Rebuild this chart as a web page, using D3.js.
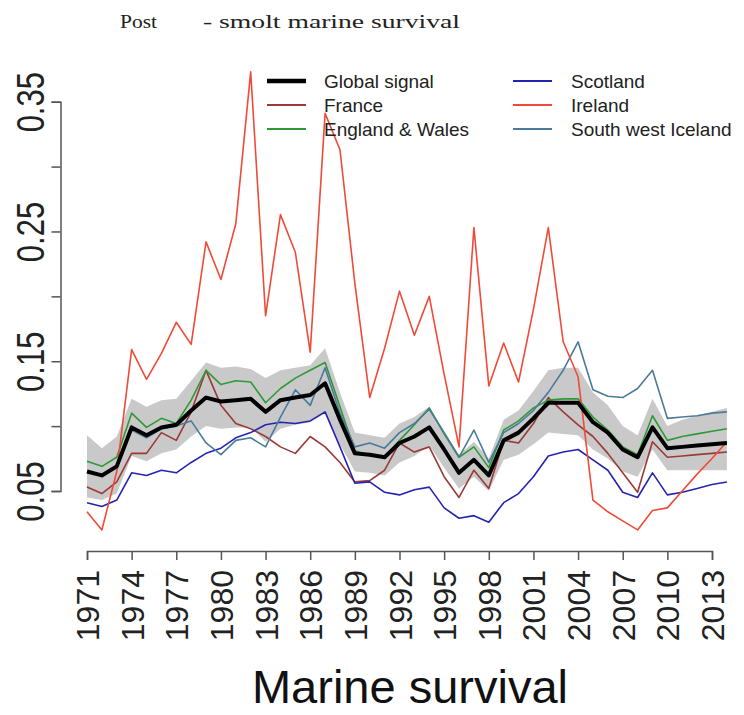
<!DOCTYPE html>
<html>
<head>
<meta charset="utf-8">
<script src="https://cdn.jsdelivr.net/npm/d3@7"></script>
<style>
  html, body { margin: 0; padding: 0; background: #fff; }
  svg { display: block; }
</style>
</head>
<body>
<svg id="chart" width="744" height="715"></svg>
<script>
// ---- data ----
const years = d3.range(1971, 2015);
const tickYears = [1971,1974,1977,1980,1983,1986,1989,1992,1995,1998,2001,2004,2007,2010,2013];
const yTicks = [0.05,0.10,0.15,0.20,0.25,0.30,0.35];
const yLabelled = [0.05,0.15,0.25,0.35];

const globalSignal = [0.065,0.062,0.069,0.099,0.093,0.099,0.101,0.112,0.122,0.119,
  0.120,0.121,0.111,0.120,0.122,0.124,0.133,0.105,0.079,0.078,
  0.076,0.087,0.092,0.099,0.082,0.064,0.074,0.062,0.089,0.095,
  0.106,0.118,0.118,0.118,0.103,0.095,0.082,0.076,0.099,0.083,
  0.084,0.085,0.086,0.087];
const bandUpper = [0.093,0.083,0.092,0.121,0.115,0.120,0.121,0.135,0.149,0.145,
  0.146,0.144,0.137,0.143,0.145,0.147,0.160,0.126,0.095,0.093,
  0.091,0.102,0.107,0.115,0.096,0.078,0.088,0.075,0.105,0.112,
  0.127,0.143,0.145,0.145,0.126,0.116,0.100,0.093,0.121,0.100,
  0.105,0.108,0.111,0.114];
const bandLower = [0.045,0.043,0.048,0.077,0.073,0.079,0.082,0.092,0.100,0.098,
  0.099,0.099,0.088,0.098,0.101,0.103,0.110,0.086,0.065,0.064,
  0.062,0.072,0.077,0.085,0.068,0.052,0.061,0.050,0.074,0.078,
  0.086,0.095,0.094,0.093,0.082,0.075,0.065,0.061,0.082,0.066,
  0.066,0.066,0.066,0.066];
const france = [0.053,0.048,0.057,0.079,0.079,0.095,0.089,0.111,0.143,0.116,
  0.102,0.098,0.092,0.084,0.079,0.092,0.084,0.072,0.057,0.058,
  0.066,0.087,0.080,0.084,0.061,0.045,0.066,0.052,0.089,0.087,
  0.102,0.122,0.111,0.101,0.092,0.079,0.064,0.049,0.088,0.076,
  0.077,0.078,0.079,0.080];
const englandWales = [0.073,0.069,0.076,0.110,0.099,0.106,0.102,0.120,0.143,0.132,
  0.135,0.134,0.118,0.129,0.137,0.143,0.149,0.115,0.081,0.078,
  0.076,0.089,0.101,0.114,0.094,0.076,0.084,0.068,0.097,0.104,
  0.114,0.120,0.121,0.121,0.107,0.097,0.084,0.078,0.108,0.089,
  0.092,0.094,0.096,0.098];
const scotland = [0.041,0.038,0.043,0.064,0.062,0.066,0.064,0.072,0.079,0.083,
  0.091,0.095,0.101,0.103,0.102,0.104,0.111,0.084,0.056,0.057,
  0.049,0.047,0.051,0.053,0.037,0.029,0.031,0.026,0.041,0.048,
  0.061,0.077,0.080,0.082,0.074,0.066,0.049,0.045,0.064,0.047,
  0.049,0.052,0.055,0.057];
const ireland = [0.034,0.020,0.065,0.159,0.136,0.156,0.180,0.163,0.242,0.213,
  0.256,0.373,0.185,0.263,0.234,0.157,0.341,0.313,0.210,0.122,
  0.160,0.204,0.170,0.200,0.140,0.084,0.253,0.131,0.164,0.134,
  0.190,0.253,0.165,0.138,0.043,0.034,0.027,0.020,0.035,0.037,
  0.050,0.063,0.075,0.088];
const swIceland = [null,null,null,0.097,0.091,0.098,0.100,0.104,0.087,0.078,
  0.089,0.091,0.084,0.107,0.128,0.116,0.145,0.110,0.084,0.087,
  0.083,0.095,0.102,0.113,0.095,0.076,0.097,0.072,0.095,0.102,
  0.112,0.126,0.143,0.165,0.128,0.123,0.122,0.129,0.143,0.106,
  0.107,0.108,0.110,0.111];

const seriesNames = ["Global signal","France","England & Wales","Scotland","Ireland","South west Iceland"];
const seriesColors = ["#000000","#9a3a36","#2f9a35","#2424b0","#f04a38","#4a7b9c"];

// ---- drawing ----
const svg = d3.select("#chart");
const x = d3.scaleLinear().domain([1971, 2013]).range([87, 712]);
const y = d3.scaleLinear().domain([0.05, 0.35]).range([491, 101.7]);

// title
const titleFont = "Liberation Serif, Times New Roman, serif";
svg.append("text").attr("x", 120).attr("y", 28)
  .attr("font-family", titleFont).attr("font-size", 19).attr("fill", "#222")
  .attr("textLength", 37).attr("lengthAdjust", "spacingAndGlyphs").text("Post");
svg.append("text").attr("x", 203).attr("y", 28)
  .attr("font-family", titleFont).attr("font-size", 19).attr("fill", "#222")
  .attr("textLength", 257).attr("lengthAdjust", "spacingAndGlyphs").text("- smolt marine survival");

// band
const area = d3.area()
  .x((d, i) => x(years[i]))
  .y0((d, i) => y(bandLower[i]))
  .y1((d, i) => y(bandUpper[i]));
svg.append("path").datum(bandUpper).attr("d", area).attr("fill", "#c9c9c9");

const line = d3.line()
  .defined(d => d != null)
  .x((d, i) => x(years[i]))
  .y(d => y(d));

const order = [
  [france, 1], [englandWales, 2], [scotland, 3], [swIceland, 5], [ireland, 4], [globalSignal, 0]
];
order.forEach(([vals, k]) => {
  svg.append("path").datum(vals).attr("d", line)
    .attr("fill", "none").attr("stroke", seriesColors[k])
    .attr("stroke-width", k === 0 ? 4 : 1.6)
    .attr("stroke-linejoin", "round");
});

// y axis
const yAxis = d3.axisLeft(y).tickValues(yTicks).tickSize(9)
  .tickFormat(d => yLabelled.some(v => Math.abs(v - d) < 1e-9) ? d.toFixed(2) : "");
const gy = svg.append("g").attr("transform", "translate(60.5,0)").call(yAxis);
gy.select(".domain").attr("stroke", "#555").attr("stroke-width", 1.5);
gy.selectAll(".tick line").attr("stroke", "#555").attr("stroke-width", 1.5);
gy.selectAll(".tick text")
  .attr("x", null).attr("dy", null).attr("y", null)
  .attr("text-anchor", "middle")
  .attr("transform", "translate(-17,0) rotate(-90) scale(1,1.25)")
  .attr("font-family", "Liberation Sans, Arial, sans-serif")
  .attr("font-size", 31).attr("fill", "#222");

// x axis
const xAxis = d3.axisBottom(x).tickValues(tickYears).tickSize(9).tickFormat(d3.format("d"));
const gx = svg.append("g").attr("transform", "translate(0,551)").call(xAxis);
gx.select(".domain").attr("stroke", "#555").attr("stroke-width", 1.5);
gx.selectAll(".tick line").attr("stroke", "#555").attr("stroke-width", 1.5);
gx.selectAll(".tick text")
  .attr("x", null).attr("y", null).attr("dy", "0.36em")
  .attr("text-anchor", "end")
  .attr("transform", "translate(0,19) rotate(-90)")
  .attr("font-family", "Liberation Sans, Arial, sans-serif")
  .attr("font-size", 32).attr("fill", "#222");

// x label
svg.append("text").attr("x", 410).attr("y", 703).attr("text-anchor", "middle")
  .attr("font-family", "Liberation Sans, Arial, sans-serif").attr("font-size", 47)
  .attr("fill", "#111").text("Marine survival");

// legend
const legendRows = [81, 105, 129];
seriesNames.forEach((name, k) => {
  const col = Math.floor(k / 3), row = k % 3;
  const lx = col === 0 ? 267 : 513;
  const tx = col === 0 ? 324 : 571;
  const ly = legendRows[row];
  svg.append("line").attr("x1", lx).attr("x2", lx + 39).attr("y1", ly).attr("y2", ly)
    .attr("stroke", seriesColors[k]).attr("stroke-width", k === 0 ? 4.5 : 2);
  svg.append("text").attr("x", tx).attr("y", ly + 7)
    .attr("font-family", "Liberation Sans, Arial, sans-serif").attr("font-size", 19)
    .attr("fill", "#222").text(name);
});
</script>
</body>
</html>
